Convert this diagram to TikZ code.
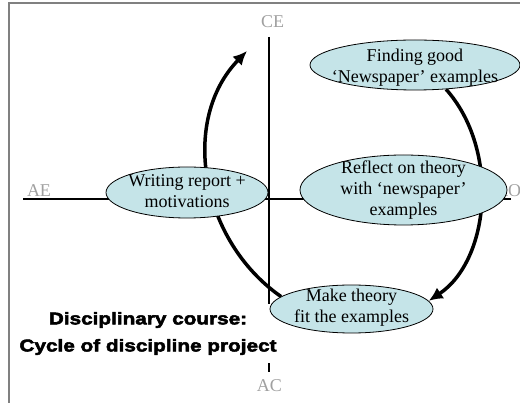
\documentclass[tikz,border=0pt]{standalone}
\usepackage{fontspec}
\setmainfont{Liberation Serif}
\newfontfamily\titlefont[FakeStretch=1.22,FakeBold=3]{Liberation Sans}
\usepackage{tikz}
\usetikzlibrary{shapes.geometric, arrows.meta, backgrounds}
\definecolor{bubblefill}{RGB}{197,228,232}
\definecolor{axisgray}{RGB}{160,160,160}

\begin{document}
\begin{tikzpicture}
    [
      x=1pt, y=-1pt,
      bubble/.style={ellipse, draw=black, line width=0.8pt, fill=bubblefill, inner sep=0pt},
      words/.style={align=center, inner sep=0pt, font=\fontsize{18}{21}\selectfont},
      axislabel/.style={anchor=base, text=axisgray, inner sep=0pt, font=\fontsize{18}{21}\selectfont},
      axis/.style={line width=2pt},
      cycle/.style={line width=3.5pt, -{Latex[length=14pt,width=13pt]}}
    ]
    \useasboundingbox (0,0) rectangle (520,403);
    % frame
    \draw[black!50, line width=1.3pt] (9,403) -- (9,3) -- (520,3);
    % title
    \node[fill=white, align=center, inner xsep=4pt, inner ysep=8pt,
          font=\titlefont\bfseries\fontsize{17}{27}\selectfont]
          (title) at (148,333.5) {Disciplinary course:\\Cycle of discipline project};
    % bubbles
    \node[bubble, minimum width=210pt, minimum height=50pt] (find) at (415,65) {};
    \node[bubble, minimum width=207pt, minimum height=70pt] (reflect) at (403.5,190) {};
    \node[bubble, minimum width=163pt, minimum height=48pt] (make) at (351.5,309) {};
    \node[bubble, minimum width=162pt, minimum height=51pt] (write) at (187,192.5) {};
    \node[words] (findtxt) at (415,68) {Finding good\\`Newspaper' examples};
    \node[words] (reflecttxt) at (403.5,190) {Reflect on theory\\with `newspaper'\\examples};
    \node[words] (maketxt) at (351.5,308) {Make theory\\fit the examples};
    \node[words] (writetxt) at (187,191.5) {Writing report +\\motivations};
    % axes, labels and cycle arrows
    \begin{scope}[on background layer]
      \foreach \name/\x/\y in {CE/272.5/28, AC/269.5/392, AE/39/197, RO/508.5/197} {
          \node[axislabel] (\name) at (\x,\y) {\name};
      }
      \coordinate (n) at (269,37);
      \coordinate (s) at (269,372);
      \coordinate (w) at (23,199);
      \coordinate (e) at (511,199);
      \draw[axis] (n) -- (s);
      \draw[axis] (w) -- (e);
      \coordinate (cetip) at (247,51);
      \draw[cycle] (make.170) .. controls (200,240) and (180,120) .. (cetip);
      \draw[cycle] (find.322) .. controls (500,150) and (490,260) .. (make.6);
    \end{scope}
\end{tikzpicture}
\end{document}
